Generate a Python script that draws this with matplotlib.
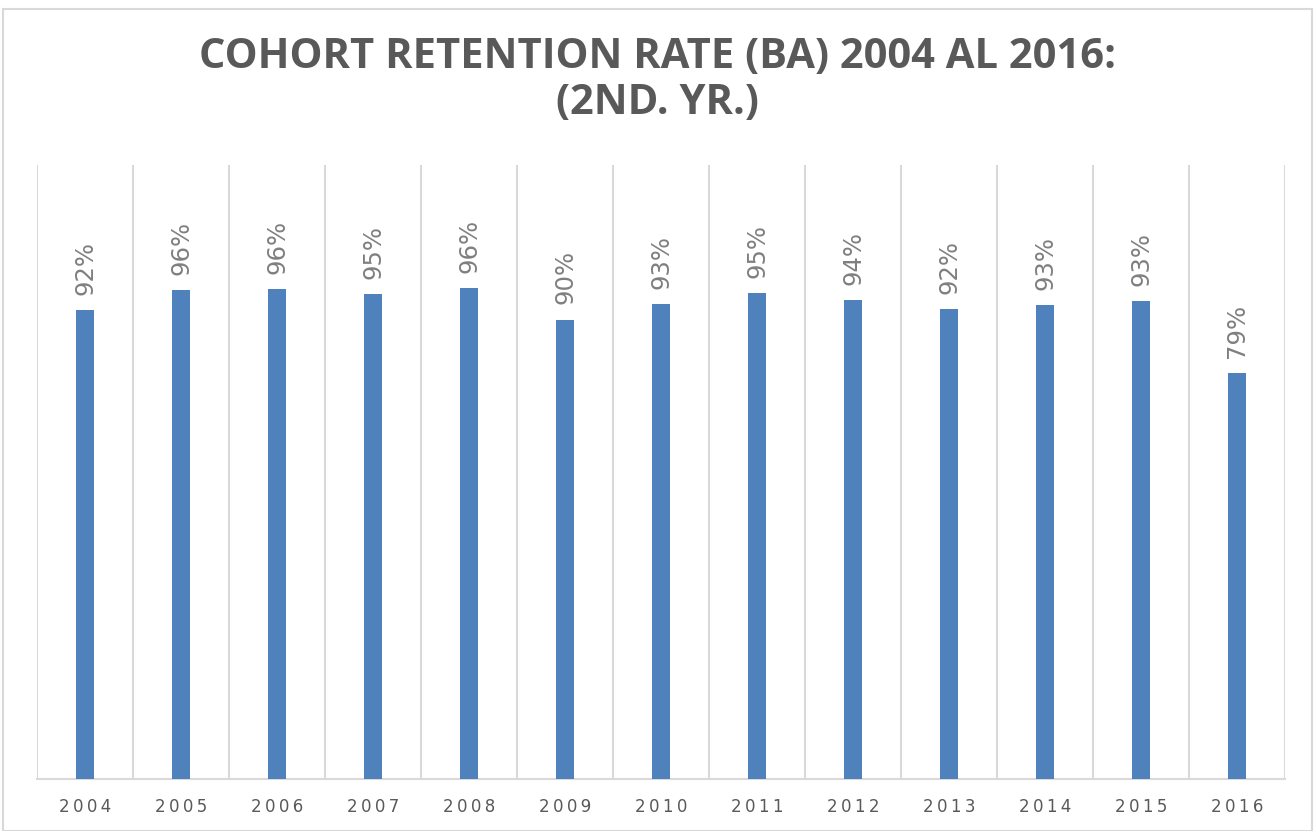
import matplotlib
matplotlib.use("Agg")
import matplotlib.pyplot as plt
from matplotlib.patches import Rectangle

years = ["2004", "2005", "2006", "2007", "2008", "2009", "2010",
         "2011", "2012", "2013", "2014", "2015", "2016"]
retention = [0.916, 0.956, 0.957, 0.948, 0.959, 0.898, 0.928,
             0.949, 0.936, 0.918, 0.926, 0.934, 0.793]

W, H = 1315, 831
fig = plt.figure(figsize=(W / 100, H / 100), dpi=100)
fig.patch.set_facecolor("white")

# outer chart border
fig.add_artist(Rectangle((3 / W, 0), (W - 6) / W, (H - 9) / H,
                         transform=fig.transFigure, fill=False,
                         edgecolor="#D9D9D9", linewidth=1.5))

ax = fig.add_axes([37 / W, (H - 779) / H, (1285 - 37) / W, (779 - 165) / H])
x = list(range(len(years)))
ax.bar(x, retention, width=0.19, color="#4F81BD", zorder=3)

ax.set_xlim(-0.5, len(years) - 0.5)
ax.set_ylim(0, 1.2)

# vertical category separators
for b in range(len(years) + 1):
    ax.axvline(b - 0.5, color="#D9D9D9", linewidth=1.5, zorder=1)

for i, v in enumerate(retention):
    ax.annotate(f"{v:.0%}", (i, v), xytext=(0, 11), textcoords="offset points",
                rotation=90, ha="center", va="bottom", fontsize=17.5,
                color="#7F7F7F", family="DejaVu Sans")

for s in ["top", "left", "right"]:
    ax.spines[s].set_visible(False)
ax.spines["bottom"].set_color("#D9D9D9")
ax.spines["bottom"].set_linewidth(1.5)
ax.set_yticks([])
ax.set_xticks(x)
ax.set_xticklabels(["\u2009".join(y) for y in years], fontsize=12,
                   color="#595959", family="DejaVu Sans")
ax.tick_params(axis="x", length=0, pad=14)

fig.text(0.5, 1 - 57 / H, "COHORT RETENTION RATE (BA) 2004 AL 2016:",
         ha="center", va="center", fontsize=30, fontweight="bold",
         color="#595959", family="Open Sans")
fig.text(0.5, 1 - 103 / H, "(2ND. YR.)",
         ha="center", va="center", fontsize=30, fontweight="bold",
         color="#595959", family="Open Sans")

fig.savefig("out.png", dpi=100, facecolor="white")
